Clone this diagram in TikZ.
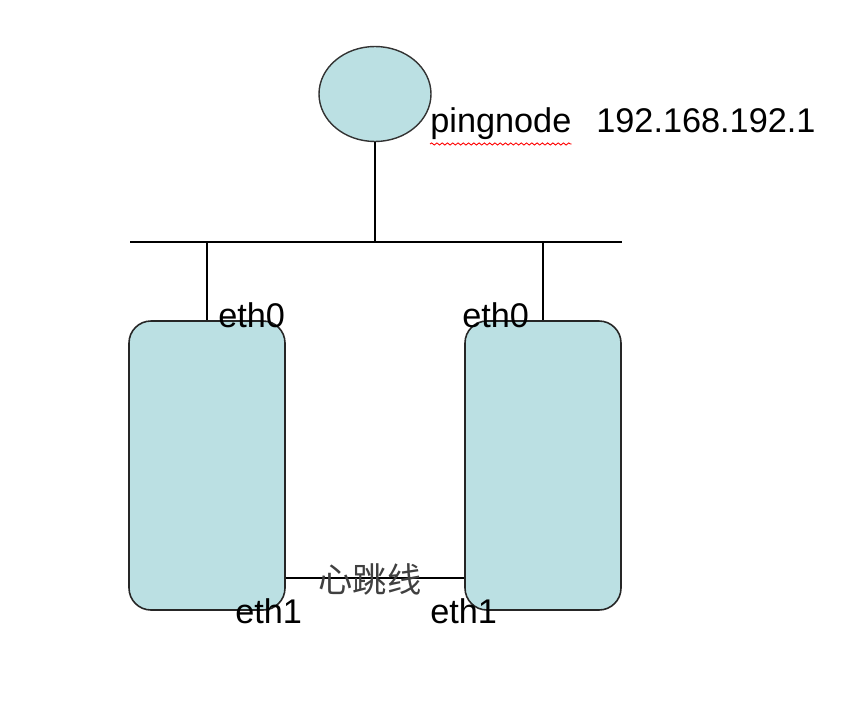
\documentclass[tikz,border=0pt]{standalone}
\usepackage{fontspec}
\setmainfont{Liberation Sans}
\newfontfamily\cjk{Noto Sans CJK SC}
\usetikzlibrary{shapes.geometric,decorations.pathmorphing}
\definecolor{nodefill}{RGB}{187,224,227}
\tikzset{
  hostbox/.style={draw=black!85,line width=0.9pt,fill=nodefill,rounded corners=0.44cm,minimum width=3.12cm,minimum height=5.78cm,inner sep=0pt},
  pingell/.style={ellipse,draw=black!80,line width=0.8pt,fill=nodefill,minimum width=2.24cm,minimum height=1.9cm,inner sep=0pt},
  wire/.style={line width=1.1pt},
  lbl/.style={inner sep=0pt,font=\fontsize{19.5pt}{23pt}\selectfont}
}
\begin{document}
\begin{tikzpicture}
    \useasboundingbox (0,0) rectangle (17.36,14.28);
    % nodes
    \node[pingell] (ping) at (7.5,12.4) {};
    \node[hostbox] (hostL) at (4.14,4.97) {};
    \node[hostbox] (hostR) at (10.86,4.97) {};
    \coordinate (busL) at (2.6,9.44);
    \coordinate (busR) at (12.44,9.44);
    \coordinate (hb) at (0,2.72);
    % wires
    \draw[wire] (busL)--(busR);
    \draw[wire] (ping.south)--(ping.south |- busL);
    \draw[wire] (hostL.north)--(hostL.north |- busL);
    \draw[wire] (hostR.north)--(hostR.north |- busL);
    \draw[wire] (hostL.east |- hb)--(hostR.west |- hb);
    % labels
    \node[lbl,anchor=base west] (pn) at (8.6,11.62) {pingnode};
    \node[lbl,anchor=base west] (ip) at (11.92,11.62) {192.168.192.1};
    \draw[red,line width=0.5pt,decorate,decoration={snake,amplitude=0.6pt,segment length=3pt}]
        ([yshift=-2pt]pn.south west)--([yshift=-2pt]pn.south east);
    \node[lbl,anchor=base west] (e0L) at (4.36,7.74) {eth0};
    \node[lbl,anchor=base west] (e0R) at (9.24,7.74) {eth0};
    \node[lbl,anchor=base west] (e1L) at (4.7,1.82) {eth1};
    \node[lbl,anchor=base west] (e1R) at (8.6,1.82) {eth1};
    \node[lbl,text=black!75] (hbt) at (7.4,2.7) {\cjk 心跳线};
\end{tikzpicture}
\end{document}
